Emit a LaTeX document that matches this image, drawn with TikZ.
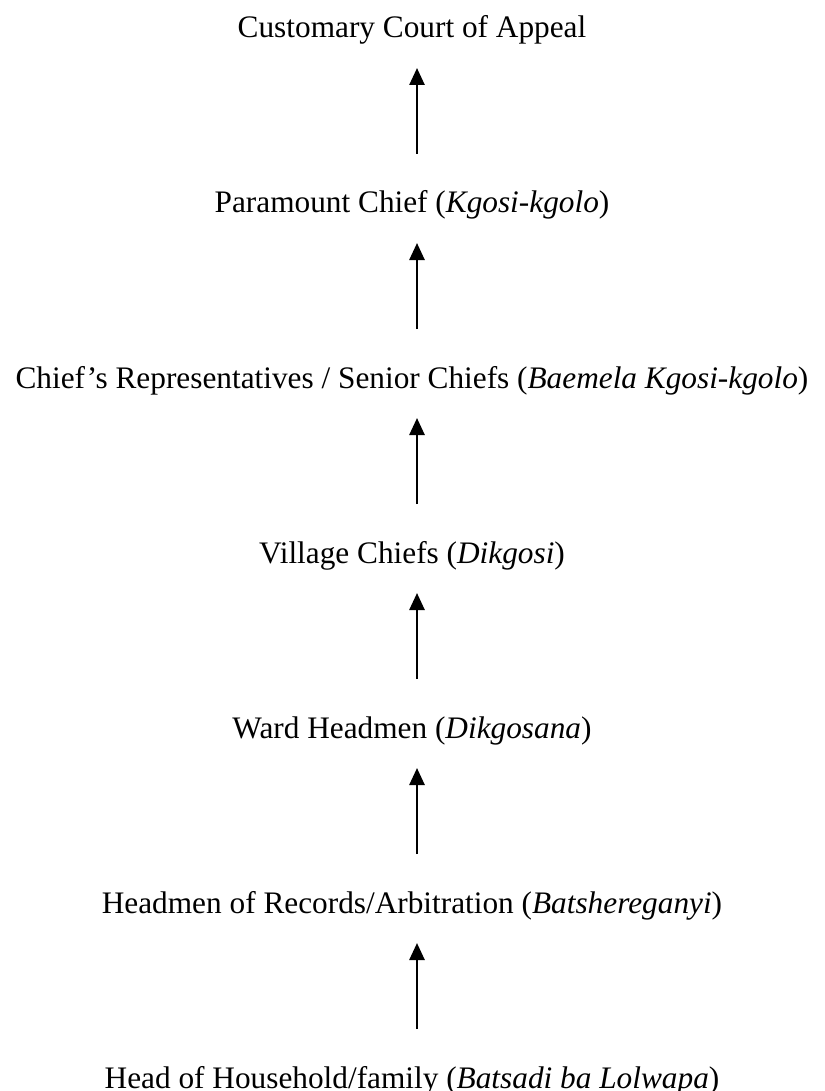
\documentclass[tikz,border=0pt]{standalone}
\usepackage{fontspec}
\setmainfont{Liberation Serif}
\usetikzlibrary{arrows.meta}

\begin{document}
\begin{tikzpicture}[
    x=1pt, y=-1pt,
    level/.style={inner sep=0pt, anchor=base, font=\fontsize{31.3}{37}\selectfont},
    arrow/.style={line width=2.6pt, -{Triangle[width=15pt,length=17pt]}, shorten <=59pt, shorten >=30pt}
]
\useasboundingbox (0,0) rectangle (824,1091);

% Define nodes from top to bottom
\node [level] (court) at (412,38) {Customary Court of Appeal};
\node [level] (paramount) at (412,213) {Paramount Chief (\textit{Kgosi-kgolo})};
\node [level] (senior) at (412,388) {Chief’s Representatives / Senior Chiefs (\textit{Baemela Kgosi-kgolo})};
\node [level] (village) at (412,563) {Village Chiefs (\textit{Dikgosi})};
\node [level] (ward) at (412,738) {Ward Headmen (\textit{Dikgosana})};
\node [level] (records) at (412,913) {Headmen of Records/Arbitration (\textit{Batshereganyi})};
\node [level] (household) at (412,1088) {Head of Household/family (\textit{Batsadi ba Lolwapa})};

% Draw arrows
\draw [arrow] ([xshift=5pt]paramount.base) -- ([xshift=5pt]court.base);
\draw [arrow] ([xshift=5pt]senior.base) -- ([xshift=5pt]paramount.base);
\draw [arrow] ([xshift=5pt]village.base) -- ([xshift=5pt]senior.base);
\draw [arrow] ([xshift=5pt]ward.base) -- ([xshift=5pt]village.base);
\draw [arrow] ([xshift=5pt]records.base) -- ([xshift=5pt]ward.base);
\draw [arrow] ([xshift=5pt]household.base) -- ([xshift=5pt]records.base);

\end{tikzpicture}
\end{document}
